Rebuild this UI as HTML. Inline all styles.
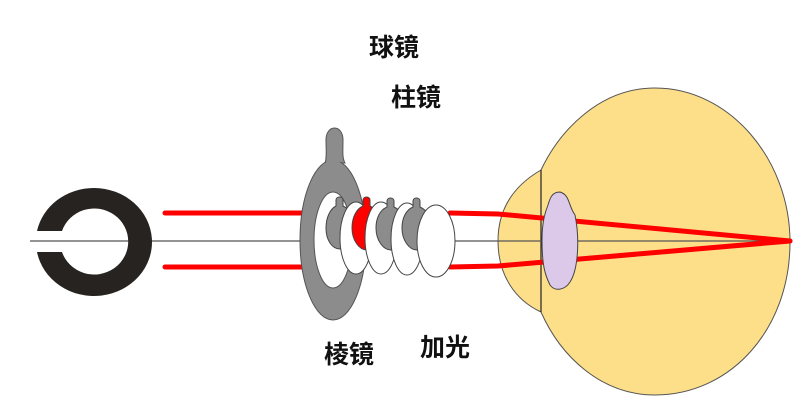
<!DOCTYPE html>
<html><head><meta charset="utf-8"><style>
html,body{margin:0;padding:0;background:#fff;width:807px;height:406px;overflow:hidden}
text{font-family:"Liberation Sans","Noto Sans CJK SC",sans-serif;font-weight:bold;font-size:25px;fill:#111}
</style></head><body>
<svg width="807" height="406" viewBox="0 0 807 406" xmlns="http://www.w3.org/2000/svg">
<!-- eye -->
<path d="M541,170 C560,130 600,88 655,88 C730,88 790,160 790,242 C790,330 730,395 655,395 C600,395 560,355 541,312 C515,300 498,275 498,241 C498,208 515,185 541,170 Z" fill="#fddf8a" stroke="#555" stroke-width="1"/>
<line x1="541" y1="170" x2="541" y2="312" stroke="#222" stroke-width="1.2"/>
<!-- axis -->
<line x1="30" y1="241" x2="792" y2="241" stroke="#555" stroke-width="1.2"/>
<!-- ring -->
<path fill-rule="evenodd" fill="#262320" d="M94,188 A58,54 0 1 1 37,252 L62,252 A34,33 0 1 0 62,231 L37,231 A58,54 0 0 1 94,188 Z"/>
<!-- red rays -->
<g stroke="#f00" stroke-width="5" fill="none" stroke-linecap="round">
<line x1="165" y1="213" x2="305" y2="213"/>
<line x1="165" y1="267" x2="305" y2="267"/>
<path d="M450,213 L498,214 L790,241"/>
<path d="M450,267 L498,266 L790,241"/>
</g>
<!-- eye lens -->
<path d="M560,192 C570,195 568,205 575,215 C580,240 578,270 570,282 C565,290 555,292 550,285 C545,275 542,265 542,240 C542,220 546,210 548,205 C550,198 552,192 560,192 Z" fill="#dcc8e8" stroke="#444" stroke-width="1"/>
<!-- big gray lens -->
<g fill="#8c8c8c" stroke="#555" stroke-width="1">
<path d="M325,163 C327,158 326,150 326,140 C326,124 343,124 343,140 C343,150 342,158 345,163 Z"/>
<ellipse cx="333" cy="240" rx="33" ry="80"/>
<path d="M326,162 C328,158 327,150 327,140 C327,126 342,126 342,140 C342,150 341,158 344,162 Z" stroke="none"/>
</g>
<ellipse cx="333" cy="240" rx="19" ry="48" fill="#fff" stroke="#555"/>
<!-- small lenses -->
<g stroke="#444" stroke-width="1">
<path d="M336,206 L336,200 C336,196 343,196 343,200 L343,206 C352,210 355,220 355,228 C355,240 348,249 340,249 C332,249 326,240 326,228 C326,218 330,209 336,206 Z" fill="#8c8c8c"/>
<ellipse cx="356" cy="238" rx="16" ry="36" fill="#fff"/>
<path d="M363,206 L363,200 C363,196 370,196 370,200 L370,206 C379,210 382,220 382,228 C382,240 375,250 367,250 C359,250 352,240 352,228 C352,218 356,209 363,206 Z" fill="#f00"/>
<ellipse cx="381" cy="238" rx="16" ry="36" fill="#fff"/>
<path d="M387,207 L387,201 C387,197 394,197 394,201 L394,207 C403,211 406,220 406,228 C406,240 399,250 391,250 C383,250 376,240 376,228 C376,218 380,210 387,207 Z" fill="#8c8c8c"/>
<ellipse cx="407" cy="239" rx="16" ry="36" fill="#fff"/>
<path d="M413,207 L413,201 C413,197 420,197 420,201 L420,207 C429,211 432,220 432,228 C432,240 425,250 417,250 C409,250 402,240 402,228 C402,218 406,210 413,207 Z" fill="#8c8c8c"/>
<ellipse cx="436" cy="241" rx="19" ry="36" fill="#fff"/>
</g>
<text x="369" y="56">球镜</text>
<text x="391" y="106">柱镜</text>
<text x="324" y="363">棱镜</text>
<text x="420" y="356">加光</text>
</svg>
</body></html>
